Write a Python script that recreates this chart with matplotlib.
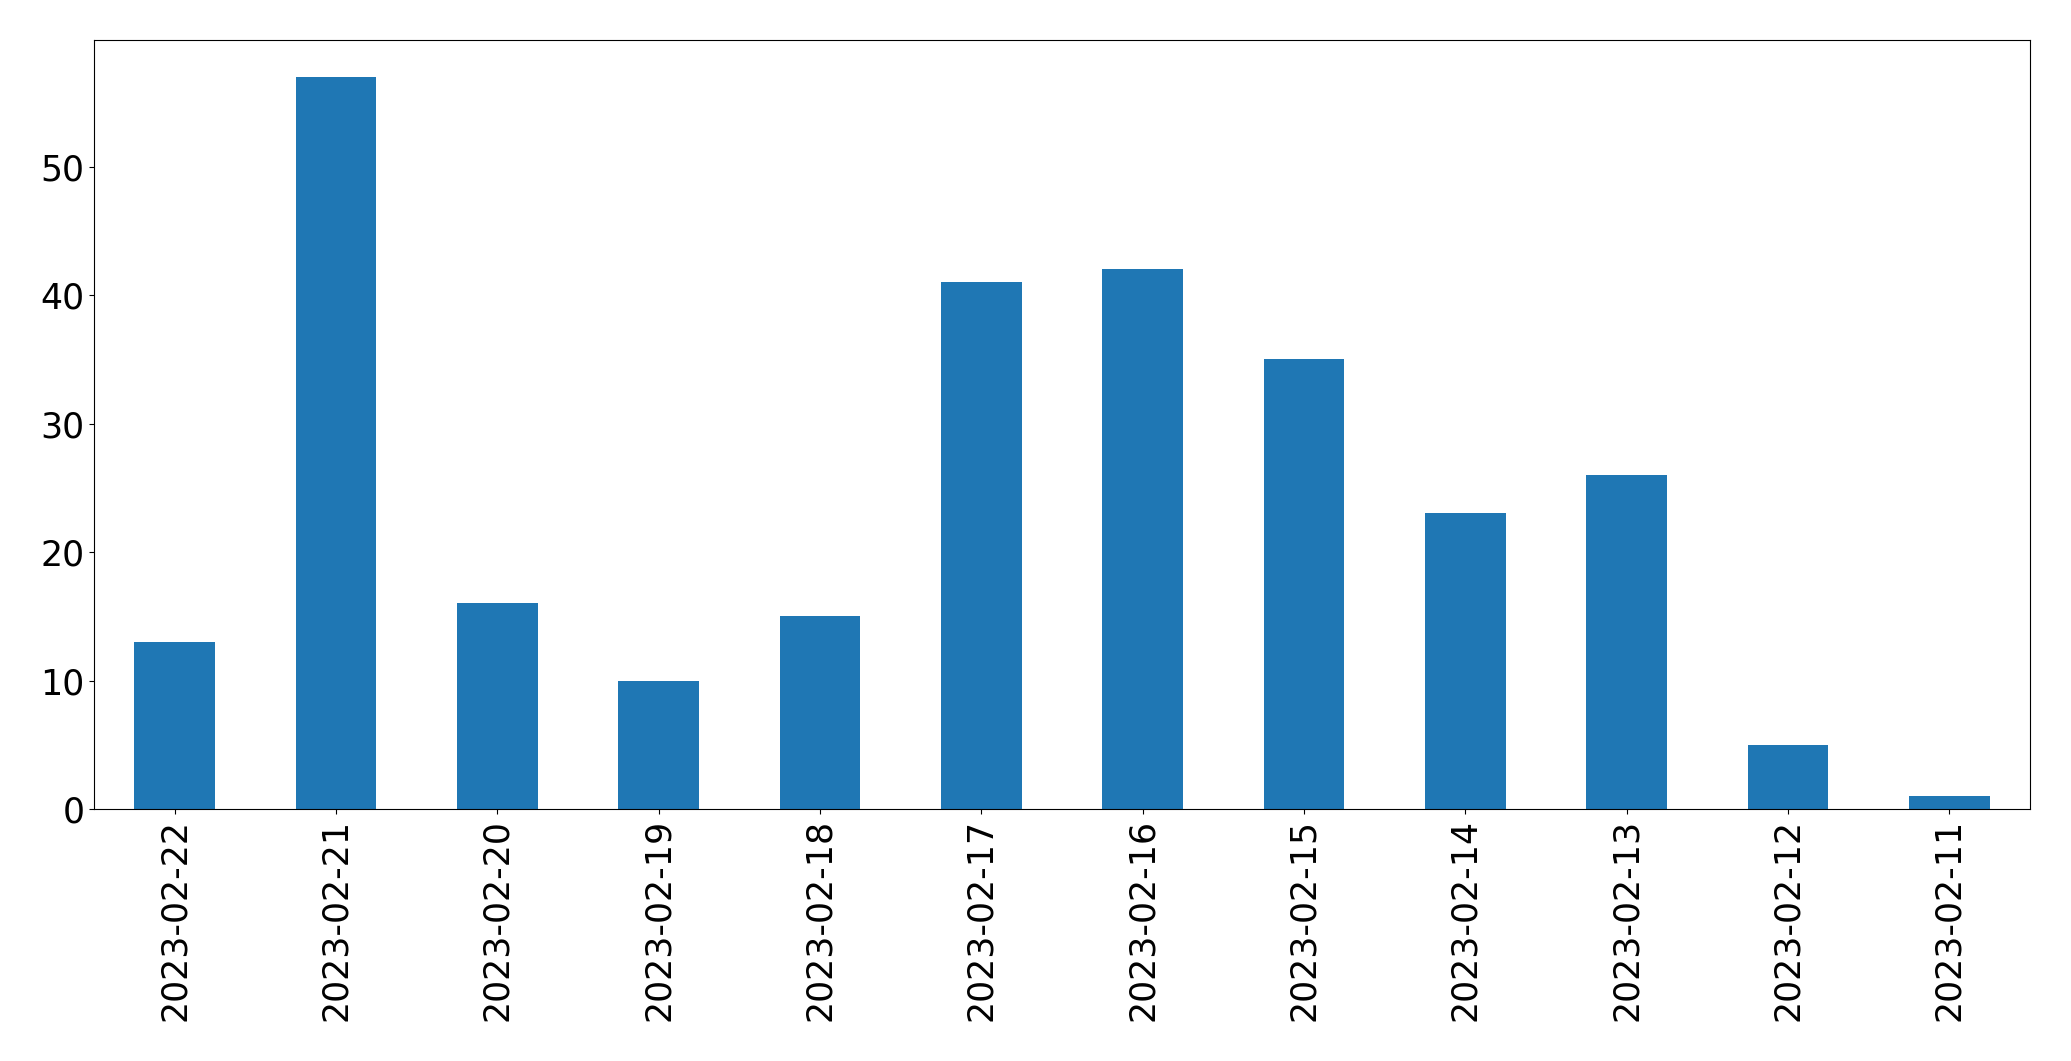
import matplotlib
matplotlib.use("Agg")
import matplotlib.pyplot as plt
import pandas as pd

dates = ['2023-02-22', '2023-02-21', '2023-02-20', '2023-02-19', '2023-02-18', '2023-02-17',
         '2023-02-16', '2023-02-15', '2023-02-14', '2023-02-13', '2023-02-12', '2023-02-11']
counts = [13, 57, 16, 10, 15, 41, 42, 35, 23, 26, 5, 1]

s = pd.Series(counts, index=dates)

fig = plt.figure(figsize=(20.71, 10.61), dpi=100)
ax = fig.add_axes([94/2071, 1 - 809/1061, (2030-94)/2071, (809-40)/1061])
s.plot(kind='bar', ax=ax, color='#1f77b4', fontsize=25)
ax.tick_params(axis='both', labelsize=25)
fig.savefig('out.png', dpi=100)
